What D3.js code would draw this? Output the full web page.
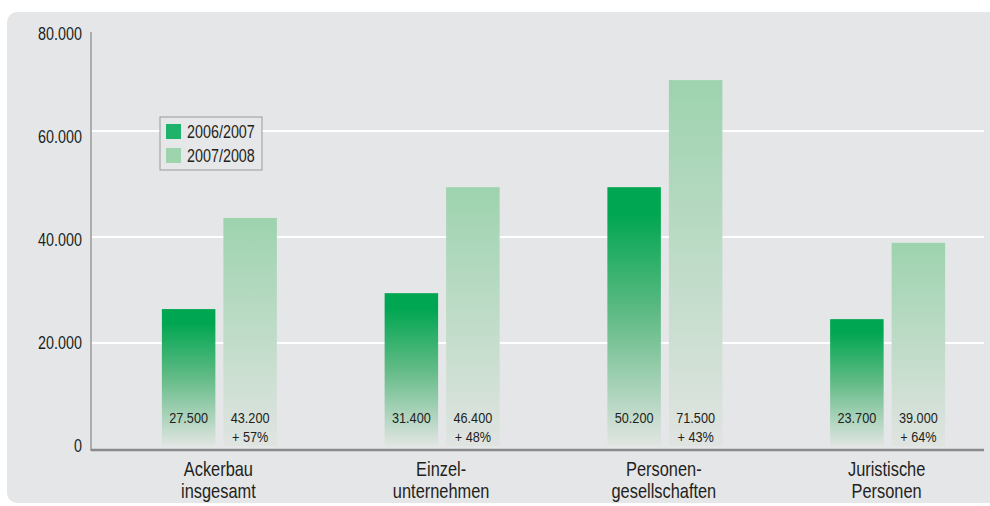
<!DOCTYPE html>
<html>
<head>
<meta charset="utf-8">
<script src="https://cdn.jsdelivr.net/npm/d3@7"></script>
<style>
  html, body { margin: 0; padding: 0; background: #fff; }
  svg { display: block; }
  text { font-family: "Liberation Sans", Arial, sans-serif; fill: #231f20; }
</style>
</head>
<body>
<script>
// categories (two lines each) and series
const categories = [["Ackerbau", "insgesamt"], ["Einzel-", "unternehmen"], ["Personen-", "gesellschaften"], ["Juristische", "Personen"]];
const seriesNames = ["2006/2007", "2007/2008"];
// bar heights as drawn in the picture
const values0607 = [26400, 29400, 49400, 24500];
const values0708 = [43600, 49400, 69600, 38900];
// printed labels
const labels0607 = ["27.500", "31.400", "50.200", "23.700"];
const labels0708 = ["43.200", "46.400", "71.500", "39.000"];
const changes = ["+ 57%", "+ 48%", "+ 43%", "+ 64%"];
const yTicks = [0, 20000, 40000, 60000, 80000];
const yTickLabels = ["0", "20.000", "40.000", "60.000", "80.000"];

const W = 990, H = 506;
const SX = 0.82; // condensed look: squeeze text horizontally
const svg = d3.select("body").append("svg").attr("width", W).attr("height", H);

const at = (px, py) => "translate(" + px + "," + py + ") scale(" + SX + ",1)";

// gray panel
svg.append("rect")
    .attr("x", 7).attr("y", 12)
    .attr("width", 1010).attr("height", 491)
    .attr("rx", 10)
    .attr("fill", "#e5e6e8");

const defs = svg.append("defs");
const g1 = defs.append("linearGradient").attr("id", "gDark").attr("x1", 0).attr("y1", 0).attr("x2", 0).attr("y2", 1);
g1.append("stop").attr("offset", 0).attr("stop-color", "#00a651");
g1.append("stop").attr("offset", 0.1).attr("stop-color", "#00a651");
g1.append("stop").attr("offset", 0.5).attr("stop-color", "#62bb86");
g1.append("stop").attr("offset", 1).attr("stop-color", "#e1e5e2");
const g2 = defs.append("linearGradient").attr("id", "gLight").attr("x1", 0).attr("y1", 0).attr("x2", 0).attr("y2", 1);
g2.append("stop").attr("offset", 0).attr("stop-color", "#9dd3ae");
g2.append("stop").attr("offset", 1).attr("stop-color", "#e0e4e1");

const xLeft = 91, xRight = 984;

const y = d3.scaleLinear().domain([0, 80000]).range([449, 25]);
// tick labels sit on a slightly tighter spacing than the grid
const yLab = d3.scaleLinear().domain([0, 80000]).range([446, 34]);

const x = d3.scaleBand().domain(d3.range(categories.length)).range([108, 999]).padding(0);
const barW = 53.5, gap = 8;

// gridlines
svg.selectAll(".grid")
    .data(yTicks.filter(d => d > 0 && d < 80000))
    .enter().append("line")
    .attr("class", "grid")
    .attr("x1", xLeft).attr("x2", xRight)
    .attr("y1", d => y(d)).attr("y2", d => y(d))
    .attr("stroke", "#fff").attr("stroke-width", 2);

// y tick labels
svg.selectAll(".ylab")
    .data(yTicks)
    .enter().append("text")
    .attr("class", "ylab")
    .attr("transform", d => at(82, yLab(d)))
    .attr("dy", "0.36em")
    .attr("text-anchor", "end")
    .style("font-size", "17.5px")
    .text((d, i) => yTickLabels[i]);

// bars
const cx = i => x(i) + x.bandwidth() / 2;
const bottom = y(0) - 3;

svg.selectAll(".bar0")
    .data(values0607)
    .enter().append("rect")
    .attr("class", "bar0")
    .attr("x", (d, i) => cx(i) - gap / 2 - barW)
    .attr("width", barW)
    .attr("y", d => y(d))
    .attr("height", d => bottom - y(d))
    .attr("fill", "url(#gDark)");

svg.selectAll(".bar1")
    .data(values0708)
    .enter().append("rect")
    .attr("class", "bar1")
    .attr("x", (d, i) => cx(i) + gap / 2)
    .attr("width", barW)
    .attr("y", d => y(d))
    .attr("height", d => bottom - y(d))
    .attr("fill", "url(#gLight)");

// value labels
svg.selectAll(".v0")
    .data(labels0607)
    .enter().append("text")
    .attr("transform", (d, i) => at(cx(i) - gap / 2 - barW / 2, 417))
    .attr("dy", "0.36em")
    .attr("text-anchor", "middle")
    .style("font-size", "15.5px")
    .text(d => d);

svg.selectAll(".v1")
    .data(labels0708)
    .enter().append("text")
    .attr("transform", (d, i) => at(cx(i) + gap / 2 + barW / 2, 417))
    .attr("dy", "0.36em")
    .attr("text-anchor", "middle")
    .style("font-size", "15.5px")
    .text(d => d);

svg.selectAll(".ch")
    .data(changes)
    .enter().append("text")
    .attr("transform", (d, i) => at(cx(i) + gap / 2 + barW / 2, 436))
    .attr("dy", "0.36em")
    .attr("text-anchor", "middle")
    .style("font-size", "15.5px")
    .text(d => d);

// axes
svg.append("line")
    .attr("x1", xLeft).attr("x2", xLeft)
    .attr("y1", 32).attr("y2", y(0) + 2)
    .attr("stroke", "#9a9a9a").attr("stroke-width", 1.5);
svg.append("line")
    .attr("x1", xLeft).attr("x2", xRight)
    .attr("y1", y(0) + 1).attr("y2", y(0) + 1)
    .attr("stroke", "#8a8a8a").attr("stroke-width", 2.5);

// category labels
const cat = svg.selectAll(".cat")
    .data(categories)
    .enter().append("text")
    .attr("class", "cat")
    .attr("transform", (d, i) => at(cx(i) - 1, 469))
    .attr("text-anchor", "middle")
    .style("font-size", "20px");
cat.append("tspan")
    .attr("x", 0).attr("y", 0).attr("dy", "0.36em")
    .text(d => d[0]);
cat.append("tspan")
    .attr("x", 0).attr("y", 22).attr("dy", "0.36em")
    .text(d => d[1]);

// legend
const leg = svg.append("g").attr("transform", "translate(160,117)");
leg.append("rect")
    .attr("width", 102).attr("height", 53)
    .attr("fill", "#e6e7e9")
    .attr("stroke", "#9a9a9a").attr("stroke-width", 1);
const legColors = ["#1fb26a", "#9dd4ae"];
seriesNames.forEach((s, i) => {
    leg.append("rect")
        .attr("x", 6).attr("y", 7 + i * 24)
        .attr("width", 15).attr("height", 15)
        .attr("fill", legColors[i]);
    leg.append("text")
        .attr("transform", at(27, 14.5 + i * 24))
        .attr("dy", "0.36em")
        .style("font-size", "17.5px")
        .text(s);
});
</script>
</body>
</html>
